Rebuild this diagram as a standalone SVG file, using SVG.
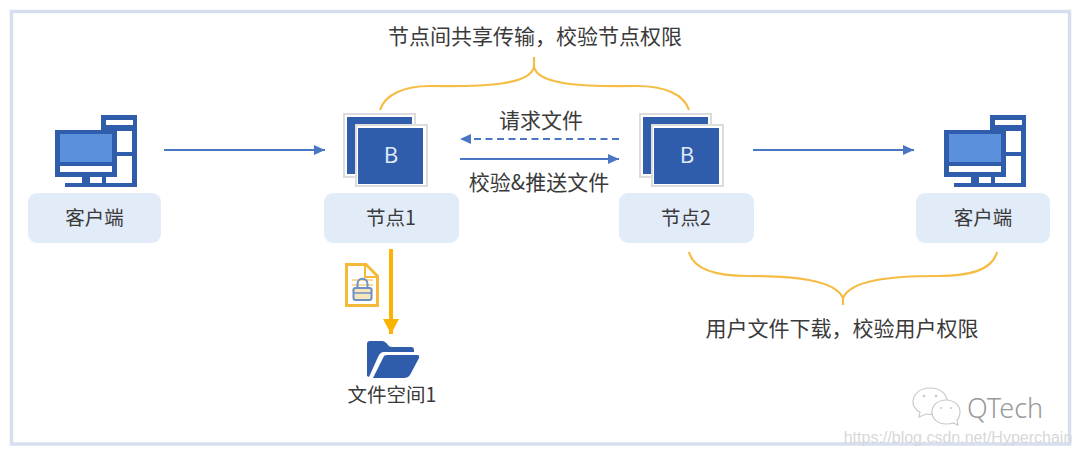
<svg xmlns="http://www.w3.org/2000/svg" width="1080" height="456" viewBox="0 0 1080 456">
<style>
text{font-family:"Noto Sans CJK SC","Noto Sans",sans-serif;fill:#3a3a3a;text-anchor:middle}
.l{font-size:19.500px}
.t{font-size:21px}
.b{font-size:22px;fill:#dfe8f6}
.box{fill:#e2ebf8}
.blue{fill:#2f5dab}
.cardo{fill:#fff;stroke:#dcdcdc;stroke-width:2}
.brace{fill:none;stroke:#f5bd45;stroke-width:2.200}
.cn{fill:none;stroke:#4a76c4;stroke-width:2.200}
.bub{fill:#fff;stroke:#c9c9c9;stroke-width:1.200}
</style>
<defs>
<marker id="a" markerWidth="12" markerHeight="11" refX="11" refY="5" orient="auto" markerUnits="userSpaceOnUse"><path d="M0 0L11 5L0 10Z" fill="#4a76c4"/></marker>
<marker id="ay" markerWidth="16" markerHeight="16" refX="15" refY="8" orient="auto" markerUnits="userSpaceOnUse"><path d="M0 0L15 8L0 16Z" fill="#f9b300"/></marker>
<g id="pc">
<path class="blue" d="M101 115H137V187H65V183H82V177H102V130H101Z"/>
<rect x="106" y="120" width="27" height="5" fill="#fff"/>
<rect x="117" y="131" width="15" height="21" fill="#fff"/>
<rect x="117" y="156" width="15" height="27" fill="#fff"/>
<rect x="106" y="177" width="26" height="6" fill="#fff"/>
<rect x="90" y="177" width="12" height="6" fill="#fff"/>
<rect x="55" y="130" width="61" height="47" class="blue"/>
<rect x="60" y="134" width="52" height="28" fill="#5b90dd"/>
<rect x="60" y="166" width="52" height="6" fill="#fff"/>
</g>
<g id="stack">
<rect x="344" y="114" width="71" height="63" class="cardo"/>
<rect x="347" y="117" width="65" height="57" class="blue"/>
<rect x="356" y="125" width="71" height="61" class="cardo"/>
<rect x="358" y="128" width="65" height="56" class="blue"/>
</g>
</defs>
<rect x="0" y="0" width="1080" height="456" fill="#fff"/>
<rect x="11.500" y="11.500" width="1058" height="432.500" fill="none" stroke="#d7dfef" stroke-width="3.500"/>

<g id="connectors">
<path class="cn" d="M164 150H325" marker-end="url(#a)"/>
<path class="cn" d="M619 139H460" stroke-dasharray="7 4.500" marker-end="url(#a)"/>
<path class="cn" d="M460 159H619" marker-end="url(#a)"/>
<path class="cn" d="M753 150H914" marker-end="url(#a)"/>
<path d="M391 249V334" stroke="#f9b300" stroke-width="4" fill="none" marker-end="url(#ay)"/>
<path class="brace" d="M380 110C385 94 405 86 430 86C490 87 530 84 534 67V57V67C538 84 578 87 637 86C664 86 684 94 689 110"/>
<path class="brace" d="M689 252C693 268 712 276 748 276C795 276 835 280 843 298V305V298C851 280 890 276 938 276C975 276 993 268 997 252"/>
</g>

<g id="client-left">
<use href="#pc"/>
<rect x="28" y="193" width="133" height="50" rx="9" class="box"/>
<text class="l" x="94.500" y="225">客户端</text>
</g>
<g id="node-1">
<use href="#stack"/>
<text class="b" x="391" y="163">B</text>
<rect x="324" y="193" width="135" height="50" rx="9" class="box"/>
<text class="l" x="391" y="225">节点1</text>
</g>
<g id="node-2">
<use href="#stack" x="296"/>
<text class="b" x="687" y="163">B</text>
<rect x="619" y="193" width="135" height="50" rx="9" class="box"/>
<text class="l" x="686" y="225">节点2</text>
</g>
<g id="client-right">
<use href="#pc" x="889"/>
<rect x="916" y="193" width="134" height="50" rx="9" class="box"/>
<text class="l" x="983" y="225">客户端</text>
</g>
<g id="locked-file">
<path d="M346.500 264.500H366L377.500 276V305.500H346.500Z" fill="#fff" stroke="#f5b93a" stroke-width="3"/>
<path d="M365 265V277H377" fill="none" stroke="#f5b93a" stroke-width="2"/>
<path d="M352 280H373M352 285H373M352 290H373" stroke="#f5cf7a" stroke-width="1.500"/>
<rect x="353.500" y="288" width="18" height="12" rx="2" fill="#f6e6bd" stroke="#6d8fc4" stroke-width="2"/>
<path d="M357.500 288V284C357.500 277 367.500 277 367.500 284V288" fill="none" stroke="#6d8fc4" stroke-width="2"/>
<path d="M353 293H371" stroke="#6d8fc4" stroke-width="1.500"/>
</g>
<g id="file-space-1">
<path class="blue" d="M367 376V344Q367 341 370 341H382Q385 341 388 345Q389 347 392 347H411Q414 347 414 350V352H384Q380 352 378 357L369 377Z"/>
<path class="blue" d="M373 378L384 356Q385 355 388 355H417Q420 355 419 358L410 375Q408 378 405 378Z"/>
<text class="l" x="392" y="402">文件空间1</text>
</g>
<g id="labels">
<text class="t" x="535" y="44">节点间共享传输，校验节点权限</text>
<text class="t" x="541" y="128">请求文件</text>
<text class="t" x="539" y="190">校验&amp;推送文件</text>
<text class="t" x="842" y="336">用户文件下载，校验用户权限</text>
</g>
<g id="watermark">
<path class="bub" d="M930 388C919 388 913 395 913 402C913 407 916 410 920 412L919 417L926 414C936 416 947 410 947 401C947 394 940 388 930 388Z"/>
<path class="bub" d="M946 400C938 400 932 405 932 412C932 419 938 424 946 424C949 424 951 424 953 423L958 425L957 420C959 418 960 415 960 412C960 405 954 400 946 400Z"/>
<g fill="#c9c9c9"><circle cx="924" cy="396" r="1.300"/><circle cx="936" cy="396" r="1.300"/><circle cx="941" cy="408" r="1.100"/><circle cx="951" cy="408" r="1.100"/></g>
<text x="1005" y="418" font-size="27" font-weight="300" style="font-family:'Noto Sans',sans-serif;fill:#999">QTech</text>
<text x="958" y="443" font-size="16" style="font-family:'Liberation Sans',sans-serif;fill:#d8d8d8">https://blog.csdn.net/Hyperchain</text>
</g>
</svg>
